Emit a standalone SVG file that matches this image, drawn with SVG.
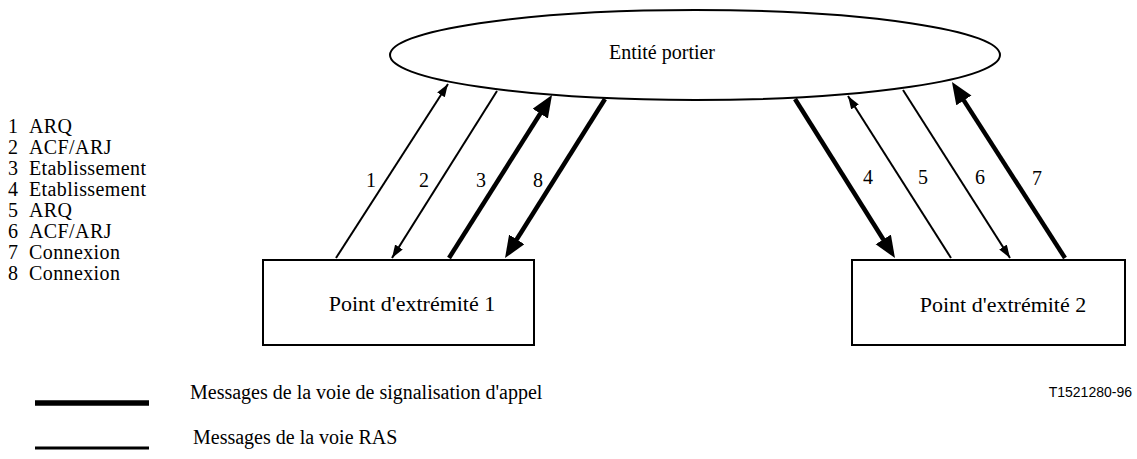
<svg xmlns="http://www.w3.org/2000/svg" width="1137" height="459" viewBox="0 0 1137 459">
<defs>
<style>
.t{font-family:"Liberation Serif","Times New Roman",serif;font-size:20px;fill:#000}
.b{font-family:"Liberation Serif","Times New Roman",serif;font-size:22px;fill:#000}
.l{font-family:"Liberation Serif","Times New Roman",serif;font-size:20px;letter-spacing:0.4px;fill:#000}
.s{font-family:"Liberation Sans",Arial,sans-serif;font-size:14px;fill:#000}
.shape{fill:#fff;stroke:#000;stroke-width:2}
.thin{stroke:#000;stroke-width:2;fill:none}
.thick{stroke:#000;stroke-width:4.5;fill:none}
</style>
<marker id="ah" markerUnits="userSpaceOnUse" markerWidth="14" markerHeight="10" refX="13" refY="4.5" orient="auto"><path d="M0,0 L13,4.5 L0,9 z" fill="#000"/></marker>
<marker id="AH" markerUnits="userSpaceOnUse" markerWidth="23" markerHeight="19" refX="4" refY="9" orient="auto"><path d="M0,0 L22,9 L0,18 z" fill="#000"/></marker>
</defs>
<rect width="1137" height="459" fill="#fff"/>
<g id="gatekeeper">
<ellipse class="shape" cx="695" cy="55" rx="305" ry="45"/>
<text class="t" x="662" y="59" text-anchor="middle">Entité portier</text>
</g>
<g id="endpoint1">
<rect class="shape" x="263" y="260" width="271" height="85"/>
<text class="b" x="412" y="311" text-anchor="middle">Point d'extrémité 1</text>
</g>
<g id="endpoint2">
<rect class="shape" x="852" y="260" width="273" height="85"/>
<text class="b" x="1003" y="312" text-anchor="middle">Point d'extrémité 2</text>
</g>
<g id="connectors">
<line class="thin" x1="336" y1="258" x2="448" y2="84" marker-end="url(#ah)"/>
<line class="thin" x1="497" y1="91" x2="392" y2="258" marker-end="url(#ah)"/>
<line class="thick" x1="449" y1="258" x2="542.4" y2="110.2" marker-end="url(#AH)"/>
<line class="thick" x1="605" y1="99" x2="514.6" y2="242.8" marker-end="url(#AH)"/>
<line class="thick" x1="795" y1="99" x2="885.4" y2="242.8" marker-end="url(#AH)"/>
<line class="thin" x1="951" y1="258" x2="848" y2="96" marker-end="url(#ah)"/>
<line class="thin" x1="903" y1="90" x2="1010" y2="258" marker-end="url(#ah)"/>
<line class="thick" x1="1065" y1="258" x2="961.7" y2="97.1" marker-end="url(#AH)"/>
</g>
<g id="connector-labels">
<text class="t" x="371" y="187" text-anchor="middle">1</text>
<text class="t" x="424" y="187" text-anchor="middle">2</text>
<text class="t" x="481" y="187" text-anchor="middle">3</text>
<text class="t" x="538" y="187" text-anchor="middle">8</text>
<text class="t" x="868" y="184" text-anchor="middle">4</text>
<text class="t" x="923" y="184" text-anchor="middle">5</text>
<text class="t" x="980" y="184" text-anchor="middle">6</text>
<text class="t" x="1037" y="185" text-anchor="middle">7</text>
</g>
<g id="message-list">
<text class="l" x="8" y="133">1</text><text class="l" x="29" y="133">ARQ</text>
<text class="l" x="8" y="154">2</text><text class="l" x="29" y="154">ACF/ARJ</text>
<text class="l" x="8" y="175">3</text><text class="l" x="29" y="175">Etablissement</text>
<text class="l" x="8" y="196">4</text><text class="l" x="29" y="196">Etablissement</text>
<text class="l" x="8" y="217">5</text><text class="l" x="29" y="217">ARQ</text>
<text class="l" x="8" y="238">6</text><text class="l" x="29" y="238">ACF/ARJ</text>
<text class="l" x="8" y="259">7</text><text class="l" x="29" y="259">Connexion</text>
<text class="l" x="8" y="280">8</text><text class="l" x="29" y="280">Connexion</text>
</g>
<g id="legend">
<line x1="35" y1="403" x2="149" y2="403" stroke="#000" stroke-width="5.5"/>
<text class="t" x="190" y="399">Messages de la voie de signalisation d'appel</text>
<line x1="35" y1="448" x2="149" y2="448" stroke="#000" stroke-width="3"/>
<text class="t" x="193" y="444">Messages de la voie RAS</text>
<text class="s" x="1132" y="397" text-anchor="end">T1521280-96</text>
</g>
</svg>
